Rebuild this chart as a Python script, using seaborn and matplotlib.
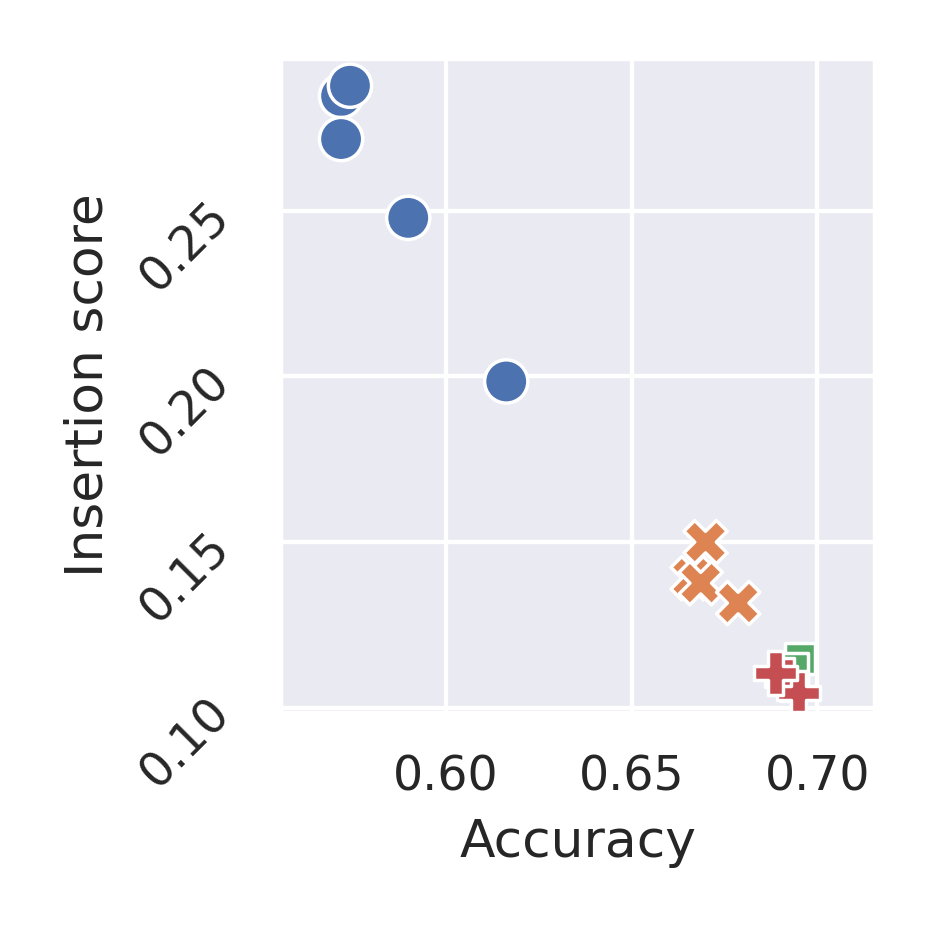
import matplotlib
matplotlib.use('Agg')
import matplotlib.pyplot as plt
import seaborn as sns
import pandas as pd

# values
group = ['a', 'a', 'a', 'a', 'a',
         'b', 'b', 'b', 'b',
         'c', 'c',
         'd', 'd', 'd']
accuracy = [0.5717, 0.5741, 0.5717, 0.5898, 0.6162,
            0.6699, 0.6664, 0.6686, 0.6787,
            0.6953, 0.6935,
            0.6918, 0.6949, 0.6887]
insertion = [0.2847, 0.2878, 0.2717, 0.2479, 0.1985,
             0.1500, 0.1391, 0.1376, 0.1316,
             0.1148, 0.1118,
             0.1085, 0.1044, 0.1105]

df = pd.DataFrame({'group': group, 'Accuracy': accuracy, 'Insertion score': insertion})

sns.set_theme(style='darkgrid')
dpi = 934 / 3
fig, ax = plt.subplots(figsize=(3, 3), dpi=dpi)
sns.scatterplot(data=df, x='Accuracy', y='Insertion score', hue='group', style='group',
                s=100, legend=False, ax=ax)

ax.set_xlim(0.5553, 0.7156)
ax.set_ylim(0.0985, 0.2962)
ax.set_xticks([0.60, 0.65, 0.70])
ax.set_yticks([0.10, 0.15, 0.20, 0.25])
ax.set_xticklabels(['0.60', '0.65', '0.70'])
ax.set_yticklabels(['0.10', '0.15', '0.20', '0.25'])
ax.tick_params(axis='y', labelrotation=45)

plt.subplots_adjust(left=0.30, right=0.937, top=0.938, bottom=0.237)
plt.savefig('out.png', dpi=dpi)
plt.close()
